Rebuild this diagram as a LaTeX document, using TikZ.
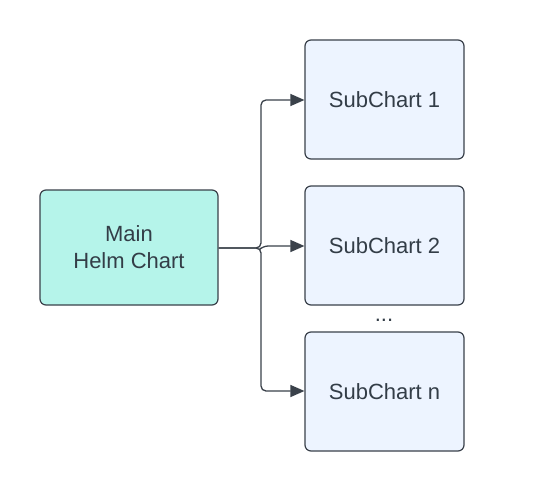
\documentclass[tikz,border=0pt]{standalone}
\usepackage{fontspec}
\setmainfont{Liberation Sans}
\usetikzlibrary{arrows.meta}
\definecolor{edge}{HTML}{3A414A}
\definecolor{txt}{HTML}{333D47}
\definecolor{mainfill}{HTML}{B5F4EA}
\definecolor{subfill}{HTML}{EDF4FF}
\begin{document}
\begin{tikzpicture}[x=1pt,y=-1pt,
  box/.style={draw=edge,line width=1.2pt,rounded corners=6pt,inner sep=0pt,text=txt,
    font=\fontsize{22}{27}\selectfont,align=center},
  mainbox/.style={box,fill=mainfill,minimum width=178pt,minimum height=115pt},
  subbox/.style={box,fill=subfill,minimum width=159pt,minimum height=119pt},
  conn/.style={draw=edge,line width=1.3pt,rounded corners=5pt,-{Triangle[length=14pt,width=12pt]}}]
\useasboundingbox (0,0) rectangle (545,492);
\fill[white] (0,0) rectangle (545,492);
\node[mainbox] (main) at (129,247.5) {Main\\Helm Chart};
\node[subbox] (s1) at (384.5,99.5) {SubChart 1};
\node[subbox] (s2) at (384.5,245.5) {SubChart 2};
\node[subbox] (sn) at (384.5,391.5) {SubChart n};
\node[text=txt,font=\fontsize{22}{27}\selectfont,inner sep=0pt] (dots) at (384,320) {...};
\coordinate (j) at (261,248);
\draw[conn] (main.east |- j) -- (j) |- (s1.west |- 0,100);
\draw[conn] (main.east |- j) -- (j) |- (sn.west |- 0,391);
\draw[conn] (j) -- ++(2,-2) -- (s2.west |- 0,246);
\end{tikzpicture}
\end{document}
